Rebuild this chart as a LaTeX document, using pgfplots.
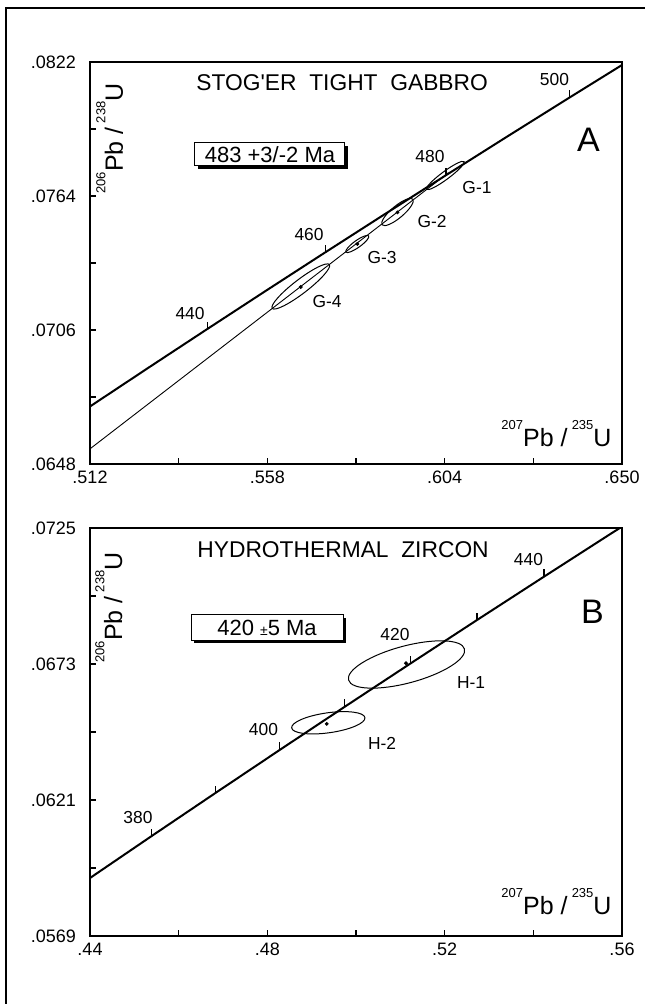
\documentclass[border=0pt]{standalone}
\usepackage{fontspec}
\setmainfont{Liberation Sans}
\usepackage{pgfplots}
\pgfplotsset{compat=1.18}

\pgfdeclareplotmark{tickup}{%
  \pgfpathmoveto{\pgfpointorigin}%
  \pgfpathlineto{\pgfqpoint{0pt}{\pgfplotmarksize}}%
  \pgfusepathqstroke}

\newcommand{\iso}[2]{\raisebox{8.8pt}{\fontsize{6.5}{7}\selectfont #1}#2}
\newcommand{\ratio}[4]{\fontsize{12.5}{13}\selectfont\iso{#1}{#2} /\,\iso{#3}{#4}}

\tikzset{lab/.style={font=\fontsize{8.7}{9}\selectfont, inner sep=0pt},
  ttl/.style={font=\fontsize{11.4}{13}\selectfont, inner sep=0pt, anchor=west}}
\pgfplotsset{
  dia/.style={
    scale only axis, width=266pt, anchor=south west,
    axis line style={line width=1pt},
    tick align=inside, major tick length=3pt,
    tick pos=left, scaled ticks=false,
    tick style={black, line width=0.8pt},
    ticklabel style={font=\fontsize{9}{10}\selectfont},
    yticklabel style={xshift=-3.5pt},
  },
  conc/.style={black, line width=1pt, no marks},
  ell/.style={only marks, mark=o, mark size=1pt, black, line width=0.5pt},
  dot/.style={only marks, mark=*, mark size=0.75pt, black},
  ctick/.style={only marks, mark=tickup, mark size=3.75pt, black, line width=0.6pt},
}

\begin{document}
\begin{tikzpicture}
\useasboundingbox (0,0) rectangle (322pt,502pt);
\draw[line width=0.75pt] (3pt,-10pt) -- (3pt,498pt) -- (340pt,498pt);

% ---------------- Panel A ----------------
\begin{axis}[dia, at={(45pt,270pt)}, height=201pt,
  xmin=0.512, xmax=0.650, ymin=0.0648, ymax=0.0822,
  xtick={0.512,0.535,0.558,0.581,0.604,0.627,0.650},
  xticklabels={.512,,.558,,.604,,.650},
  ytick={0.0648,0.0677,0.0706,0.0735,0.0764,0.0793,0.0822},
  yticklabels={.0648,,.0706,,.0764,,.0822}]
% concordia
\addplot[conc] coordinates {
 (0.512000,0.067289) (0.527275,0.068979) (0.542392,0.070638)
 (0.557656,0.072301) (0.573073,0.073965) (0.588643,0.075632)
 (0.604365,0.077302) (0.620245,0.078975) (0.636281,0.080650)
 (0.650038,0.082074)};
% discordia
\addplot[black, line width=0.45pt] coordinates {(0.512,0.065455) (0.6050,0.07741)};
% concordia age ticks
\addplot[ctick] coordinates {(0.542392,0.070638) (0.573073,0.073965) (0.604365,0.077302) (0.636281,0.080650)};
% error ellipses
\addplot[ell, mark options={rotate=36.5, xscale=11.65, yscale=2}] coordinates {(0.604165,0.077287)};
\addplot[ell, mark options={rotate=40, xscale=10, yscale=3}] coordinates {(0.591766,0.075707)};
\addplot[ell, mark options={rotate=35.5, xscale=7, yscale=1.75}] coordinates {(0.581339,0.074322)};
\addplot[ell, mark options={rotate=37.5, xscale=18, yscale=3.5}] coordinates {(0.566681,0.072483)};
\addplot[dot] coordinates {(0.591766,0.075690) (0.581339,0.074322) (0.566660,0.072460)};
% texts
\node[ttl] at (rel axis cs:0.1992,0.9478) {STOG\textquotesingle ER\ \ TIGHT\ \ GABBRO};
\node[font=\fontsize{17}{18}\selectfont] at (rel axis cs:0.937,0.806) {A};
\node[fill=black, minimum width=75pt, minimum height=11.5pt, inner sep=0pt, xshift=1.5pt, yshift=-1.5pt] at (rel axis cs:0.3383,0.7699) {};
\node[draw, line width=0.5pt, fill=white, minimum width=75pt, minimum height=11.5pt, inner sep=0pt, font=\fontsize{11}{12}\selectfont] at (rel axis cs:0.3383,0.7699) {483 +3/-2 Ma};
\node[lab] at (rel axis cs:0.8731,0.9552) {500};
\node[lab] at (rel axis cs:0.6391,0.7649) {480};
\node[lab] at (rel axis cs:0.4117,0.5697) {460};
\node[lab] at (rel axis cs:0.1880,0.3744) {440};
\node[lab] at (rel axis cs:0.7274,0.6866) {G-1};
\node[lab] at (rel axis cs:0.6429,0.6020) {G-2};
\node[lab] at (rel axis cs:0.5489,0.5124) {G-3};
\node[lab] at (rel axis cs:0.4455,0.4030) {G-4};
\node[rotate=90, anchor=base, inner sep=0pt] at (rel axis cs:0.062,0.8097) {\ratio{206}{Pb}{238}{U}};
\node[anchor=base east, inner sep=0pt] at (rel axis cs:0.981,0.0423) {\ratio{207}{Pb}{235}{U}};
\end{axis}

% ---------------- Panel B ----------------
\begin{axis}[dia, at={(45pt,34pt)}, height=204pt,
  xmin=0.44, xmax=0.56, ymin=0.0569, ymax=0.0725,
  xtick={0.44,0.46,0.48,0.50,0.52,0.54,0.56},
  xticklabels={.44,,.48,,.52,,.56},
  ytick={0.0569,0.0595,0.0621,0.0647,0.0673,0.0699,0.0725},
  yticklabels={.0569,,.0621,,.0673,,.0725}]
\addplot[conc] coordinates {
 (0.440000,0.059117) (0.453890,0.060720) (0.468280,0.062366)
 (0.482812,0.064016) (0.497488,0.065668) (0.512308,0.067322)
 (0.527275,0.068979) (0.542392,0.070638) (0.557656,0.072301)
 (0.559493,0.072497)};
\addplot[ctick] coordinates {(0.453890,0.060720) (0.468280,0.062366)
 (0.482812,0.064016) (0.497488,0.065668) (0.512308,0.067322)
 (0.527275,0.068979) (0.542392,0.070638)};
\addplot[ell, mark options={rotate=15, xscale=30, yscale=9.25}] coordinates {(0.511392,0.067281)};
\addplot[ell, mark options={rotate=8, xscale=18.5, yscale=5}] coordinates {(0.493752,0.065052)};
\addplot[dot] coordinates {(0.51128,0.06733) (0.49339,0.06501)};
\node[ttl] at (rel axis cs:0.2011,0.9461) {HYDROTHERMAL\ \ ZIRCON};
\node[font=\fontsize{17}{18}\selectfont] at (rel axis cs:0.9445,0.7941) {B};
\node[fill=black, minimum width=76pt, minimum height=12.5pt, inner sep=0pt, xshift=1.5pt, yshift=-1.5pt] at (rel axis cs:0.3327,0.7561) {};
\node[draw, line width=0.5pt, fill=white, minimum width=76pt, minimum height=12.5pt, inner sep=0pt, font=\fontsize{11}{12}\selectfont] at (rel axis cs:0.3327,0.7561) {420 {\fontsize{7}{7}\selectfont ±}5 Ma};
\node[lab] at (rel axis cs:0.8242,0.9216) {440};
\node[lab] at (rel axis cs:0.5733,0.7377) {420};
\node[lab] at (rel axis cs:0.3261,0.5061) {400};
\node[lab] at (rel axis cs:0.0902,0.2892) {380};
\node[lab] at (rel axis cs:0.7162,0.6201) {H-1};
\node[lab] at (rel axis cs:0.5489,0.4730) {H-2};
\node[rotate=90, anchor=base, inner sep=0pt] at (rel axis cs:0.0602,0.8051) {\ratio{206}{Pb}{238}{U}};
\node[anchor=base east, inner sep=0pt] at (rel axis cs:0.981,0.0515) {\ratio{207}{Pb}{235}{U}};
\end{axis}
\end{tikzpicture}
\end{document}
